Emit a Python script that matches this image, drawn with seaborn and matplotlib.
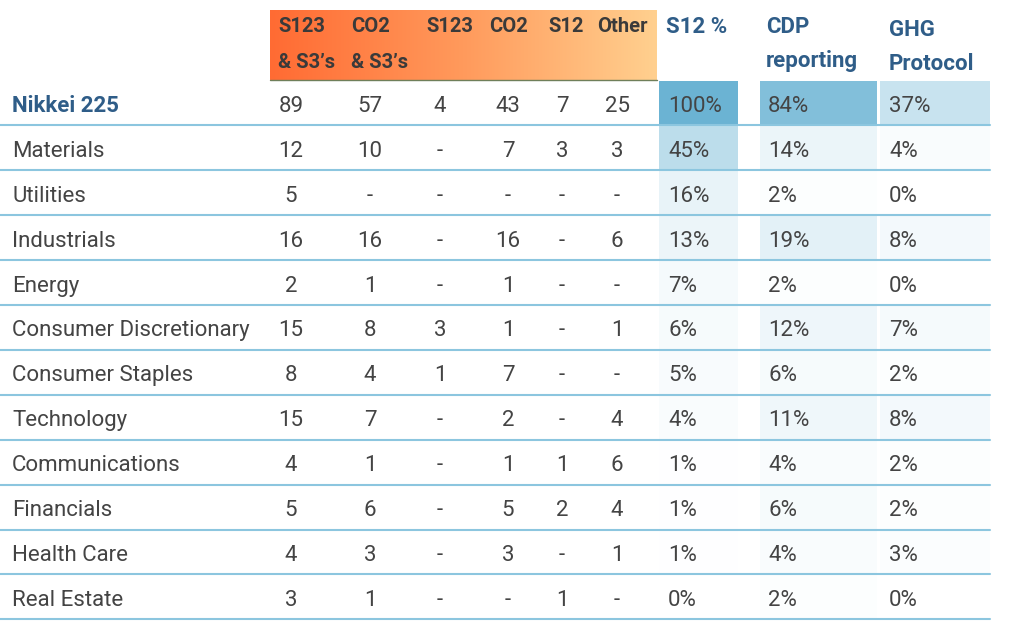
import numpy as np
import pandas as pd
import seaborn as sns
import matplotlib.pyplot as plt
from matplotlib.colors import LinearSegmentedColormap

sns.set_style("white")
plt.rcParams['font.family'] = ['Roboto', 'DejaVu Sans']

sectors = ["Nikkei 225", "Materials", "Utilities", "Industrials", "Energy",
           "Consumer Discretionary", "Consumer Staples", "Technology",
           "Communications", "Financials", "Health Care", "Real Estate"]
s123_s3 = [89, 12, 5, 16, 2, 15, 8, 15, 4, 5, 4, 3]
co2_s3 = [57, 10, None, 16, 1, 8, 4, 7, 1, 6, 3, 1]
s123 = [4, None, None, None, None, 3, 1, None, None, None, None, None]
co2 = [43, 7, None, 16, 1, 1, 7, 2, 1, 5, 3, None]
s12 = [7, 3, None, None, None, None, None, None, 1, 2, None, 1]
other = [25, 3, None, 6, None, 1, None, 4, 6, 4, 1, None]
s12_pct = [100, 45, 16, 13, 7, 6, 5, 4, 1, 1, 1, 0]
cdp_pct = [84, 14, 2, 19, 2, 12, 6, 11, 4, 6, 4, 2]
ghg_pct = [37, 4, 0, 8, 0, 7, 2, 8, 2, 2, 3, 0]

count_headers = ["S123\n& S3\u2019s", "CO2\n& S3\u2019s", "S123", "CO2", "S12", "Other"]
pct_headers = ["S12 %", "CDP\nreporting", "GHG\nProtocol"]

W, H = 1024, 627
fig = plt.figure(figsize=(W / 100, H / 100), dpi=100)
ax = fig.add_axes([0, 0, 1, 1])
ax.set_xlim(0, W)
ax.set_ylim(H, 0)
ax.axis("off")

top, row_h = 80.5, 44.9
txt = "#444444"
blue_txt = "#2f5d88"
line_c = "#8cc6df"
dy = 3.5  # text baseline nudge

# orange gradient header
grad = np.linspace(0, 1, 256).reshape(1, -1)
orange = LinearSegmentedColormap.from_list("orange", ["#ff6b33", "#ff9a5c", "#ffd08f"])
ax.imshow(grad, cmap=orange, aspect="auto", extent=(270, 657, 80, 10), zorder=0)
ax.plot([270, 657], [80, 80], color="#6f7f5a", lw=1, zorder=1)

# percentage columns as heatmaps
blues = LinearSegmentedColormap.from_list("blues", ["#ffffff", "#6bb3d3"])
pct_cols = [(659, 738, 668, s12_pct), (760, 877, 768, cdp_pct), (880, 990, 889, ghg_pct)]
for x0, x1, tx, vals in pct_cols:
    hax = fig.add_axes([x0 / W, 1 - (top + row_h * len(sectors)) / H,
                        (x1 - x0) / W, row_h * len(sectors) / H])
    sns.heatmap(pd.DataFrame({"v": vals}), ax=hax, cmap=blues, vmin=0, vmax=100,
                cbar=False, xticklabels=False, yticklabels=False)
    hax.set_zorder(0)
    for i, v in enumerate(vals):
        ax.text(tx, top + row_h * (i + 0.5) + dy, f"{v}%", ha="left", va="center",
                fontsize=16, color=txt, zorder=5)
ax.set_zorder(2)
ax.patch.set_alpha(0)

# header texts
count_x = [278, 351, 426, 489, 548, 597]
for x, h in zip(count_x, count_headers):
    for j, part in enumerate(h.split("\n")):
        ax.text(x, 27 + 35 * j, part, ha="left", va="center", fontsize=14.5,
                fontweight="semibold", color="#3a3a3a")
for x, y0, h in zip([666, 766, 889], [27, 27, 30], pct_headers):
    for j, part in enumerate(h.split("\n")):
        ax.text(x, y0 + 34 * j, part, ha="left", va="center", fontsize=16,
                fontweight="semibold", color=blue_txt)

# body
num_x = [291, 370, 440, 508, 562, 617]
cols = [s123_s3, co2_s3, s123, co2, s12, other]
for i, name in enumerate(sectors):
    yc = top + row_h * (i + 0.5) + dy
    if i == 0:
        ax.text(12, yc, name, ha="left", va="center", fontsize=16,
                fontweight="bold", color=blue_txt)
    else:
        ax.text(12, yc, name, ha="left", va="center", fontsize=16, color=txt)
    for x, col in zip(num_x, cols):
        v = col[i]
        ax.text(x, yc, "-" if v is None else str(v), ha="center", va="center",
                fontsize=16, color=txt)
    ax.plot([0, 990], [top + row_h * (i + 1)] * 2, color=line_c, lw=1.5, zorder=4)

fig.savefig("out.png", dpi=100)
